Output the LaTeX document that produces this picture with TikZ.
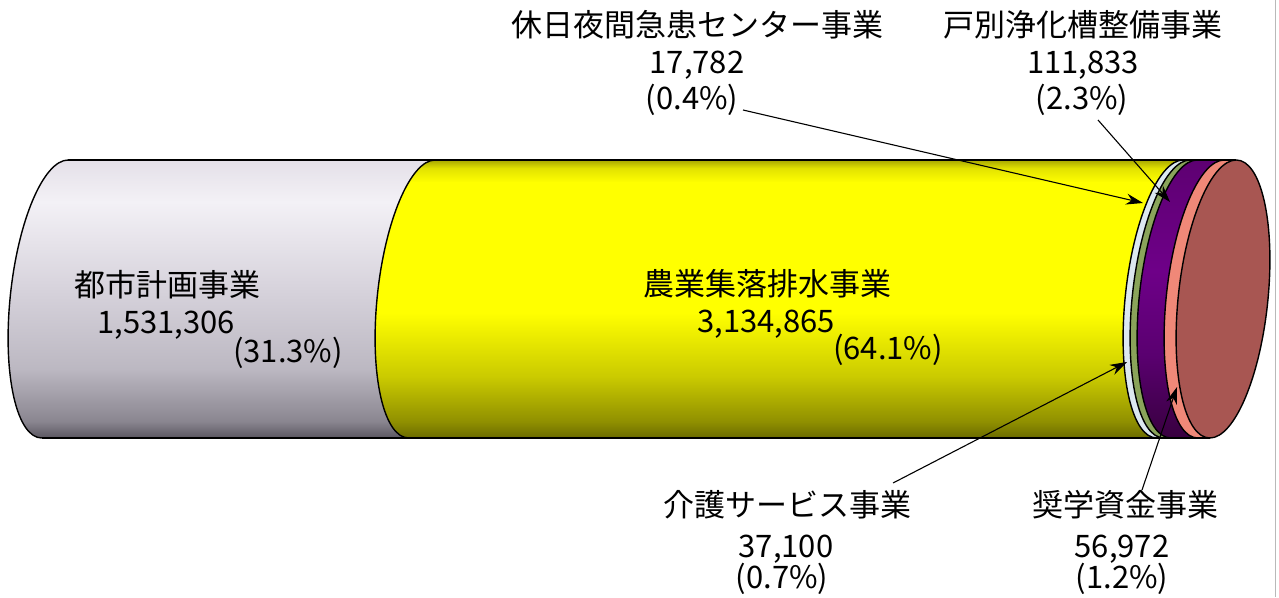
\documentclass[tikz,border=0pt]{standalone}
\usepackage{fontspec}
\setmainfont{Noto Sans CJK JP}
\usetikzlibrary{arrows.meta}
\definecolor{gA}{HTML}{5A5660}
\definecolor{gB}{HTML}{8A8690}
\definecolor{gC}{HTML}{BCB8C2}
\definecolor{gD}{HTML}{D8D4DD}
\definecolor{gE}{HTML}{F3F1F6}
\definecolor{gF}{HTML}{E4E0E8}
\definecolor{yA}{HTML}{6B6B00}
\definecolor{yB}{HTML}{909000}
\definecolor{yC}{HTML}{CACA00}
\definecolor{yD}{HTML}{FFFF00}
\definecolor{yE}{HTML}{E2E200}
\definecolor{yF}{HTML}{A8A800}
\definecolor{pA}{HTML}{38003F}
\definecolor{pB}{HTML}{5A0070}
\definecolor{pC}{HTML}{6E0088}
\definecolor{pD}{HTML}{5E0072}
\definecolor{ringwhite}{HTML}{DCE8F0}
\definecolor{ringgreen}{HTML}{8AA45A}
\definecolor{ringpink}{HTML}{F08878}
\definecolor{facebrown}{HTML}{A85652}
% path box maps to 25bp..75bp of a 100bp shading
\pgfdeclareverticalshading{grayshade}{100bp}{color(0bp)=(gA); color(25bp)=(gA); color(28bp)=(gB); color(37.5bp)=(gC); color(52.5bp)=(gD); color(67.5bp)=(gE); color(75bp)=(gF); color(100bp)=(gF)}
\pgfdeclareverticalshading{yellowshade}{100bp}{color(0bp)=(yA); color(25bp)=(yA); color(28bp)=(yB); color(36bp)=(yC); color(47.5bp)=(yD); color(71bp)=(yD); color(73.5bp)=(yE); color(75bp)=(yF); color(100bp)=(yF)}
\pgfdeclareverticalshading{purpleshade}{100bp}{color(0bp)=(pA); color(25bp)=(pA); color(40bp)=(pB); color(55bp)=(pC); color(75bp)=(pD); color(100bp)=(pD)}
\tikzset{
  txt/.style={font=\fontsize{31}{31}\selectfont, inner sep=0pt},
  outl/.style={line width=1.4pt, black},
  arr/.style={line width=1.1pt, -{Stealth[length=17pt,width=11pt]}},
}
\newcommand{\segm}[3]{% #1 style, #2 left centre, #3 right centre
  \path[#1] (#2,139) arc[start angle=90,end angle=270,x radius=45,y radius=139]
    -- (#3,-139) arc[start angle=270,end angle=90,x radius=45,y radius=139] -- cycle;}
\newcommand{\halfarc}[1]{%
  \draw[outl] (#1,139) arc[start angle=90,end angle=270,x radius=45,y radius=139];}
\begin{document}
\begin{tikzpicture}[x=1pt,y=1pt]
\fill[white] (0,0) rectangle (1279,597);
\useasboundingbox (0,0) rectangle (1279,597);
\draw[gray!55, line width=1.5pt] (1275.5,0) -- (1275.5,597);
\begin{scope}[shift={(0,298)}, xslant=0.095]
  \segm{shade, shading=grayshade}{55}{422}
  \segm{shade, shading=yellowshade}{422}{1170}
  \segm{fill=ringwhite}{1170}{1177}
  \segm{fill=ringgreen}{1177}{1184}
  \segm{shade, shading=purpleshade}{1184}{1211}
  \segm{fill=ringpink}{1211}{1223}
  \fill[facebrown] (1223,0) ellipse[x radius=45, y radius=139];
  \halfarc{55}\halfarc{422}\halfarc{1170}\halfarc{1177}\halfarc{1184}\halfarc{1211}
  \draw[outl] (55,139) -- (1223,139);
  \draw[outl] (55,-139) -- (1223,-139);
  \draw[outl] (1223,0) ellipse[x radius=45, y radius=139];
\end{scope}
% inner labels
\node[txt] (t1) at (167,312) {都市計画事業};
\node[txt, anchor=west] (n1) at (97,272) {1,531,306};
\node[txt, anchor=west] (p1) at (233,244) {(31.3\%)};
\node[txt] (t2) at (767,313) {農業集落排水事業};
\node[txt, anchor=west] (n2) at (697,273) {3,134,865};
\node[txt, anchor=west] (p2) at (833,247) {(64.1\%)};
% top labels
\node[txt] (t3) at (697,572) {休日夜間急患センター事業};
\node[txt] (n3) at (697,532) {17,782};
\node[txt] (p3) at (692,497) {(0.4\%)};
\node[txt] (t4) at (1083,572) {戸別浄化槽整備事業};
\node[txt] (n4) at (1083,532) {111,833};
\node[txt] (p4) at (1082,497) {(2.3\%)};
% bottom labels
\node[txt] (t5) at (787,92) {介護サービス事業};
\node[txt] (n5) at (786,48) {37,100};
\node[txt] (p5) at (782,18) {(0.7\%)};
\node[txt] (t6) at (1125,92) {奨学資金事業};
\node[txt] (n6) at (1122,48) {56,972};
\node[txt] (p6) at (1122,18) {(1.2\%)};
% arrows
\coordinate (a1s) at (743,487);
\coordinate (a1e) at (1143,394);
\coordinate (a2s) at (1098,477);
\coordinate (a2e) at (1170,395);
\coordinate (a3s) at (893,114);
\coordinate (a3e) at (1127,235);
\coordinate (a4s) at (1142,107);
\coordinate (a4e) at (1177,210);
\draw[arr] (a1s) -- (a1e);
\draw[arr] (a2s) -- (a2e);
\draw[arr] (a3s) -- (a3e);
\draw[arr] (a4s) -- (a4e);
\end{tikzpicture}
\end{document}
